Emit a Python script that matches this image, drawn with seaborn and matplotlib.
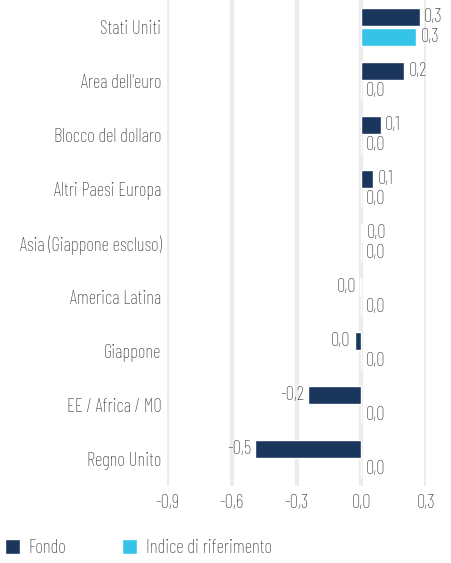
import matplotlib
matplotlib.use("Agg")
import matplotlib.pyplot as plt
import seaborn as sns
import pandas as pd

categories = ["Stati Uniti", "Area dell'euro", "Blocco del dollaro", "Altri Paesi Europa",
              "Asia (Giappone escluso)", "America Latina", "Giappone", "EE / Africa / MO", "Regno Unito"]
fondo = [0.27, 0.20, 0.09, 0.055, 0.004, -0.004, -0.03, -0.245, -0.49]
indice = [0.255, 0.0, 0.0, 0.0, 0.0, 0.0, 0.0, 0.0, 0.0]
series_names = ["Fondo", "Indice di riferimento"]
colors = ["#1b365d", "#35c4e8"]
xticks = [-0.9, -0.6, -0.3, 0.0, 0.3]

sns.set_theme(style="white")
plt.rcParams['font.family'] = ["Barlow Condensed", 'DejaVu Sans']
plt.rcParams['font.weight'] = 'light'
txt = "#333333"
FS = 13.5

df = pd.DataFrame({
    "cat": categories * 2,
    "val": fondo + indice,
    "serie": [series_names[0]] * len(categories) + [series_names[1]] * len(categories),
})

fig = plt.figure(figsize=(4.51, 5.63), dpi=100)
ax = fig.add_axes([167 / 451, 1 - 486 / 563, (426 - 167) / 451, 486 / 563])
sns.barplot(data=df, y="cat", x="val", hue="serie", orient="h", palette=colors,
            width=0.72, gap=0.08, ax=ax, saturation=1, legend=True)

ax.set_xlim(-0.9, 0.3)
ax.set_ylim(len(categories) - 0.5, -0.5)
ax.set_xticks(xticks)
ax.set_xticklabels([f"{t:.1f}".replace(".", ",") for t in xticks], color=txt, fontsize=FS)
ax.tick_params(axis="y", length=0, pad=4, labelsize=FS, labelcolor=txt)
ax.tick_params(axis="x", length=0, pad=6)
ax.set_xlabel("")
ax.set_ylabel("")
for s in ax.spines.values():
    s.set_visible(False)
ax.grid(False)
for t in xticks:
    ax.axvline(t, color="#ececec", lw=3, zorder=0)

def fmt(v):
    r = round(v, 1)
    if r == 0:
        return "0,0"
    return f"{r:.1f}".replace(".", ",")

for container in ax.containers:
    for bar in container:
        w = bar.get_width()
        y = bar.get_y() + bar.get_height() / 2
        x0 = bar.get_x()
        left, right = min(x0, x0 + w), max(x0, x0 + w)
        if w >= 0:
            ax.annotate(fmt(w), (right, y), xytext=(3, 0), textcoords="offset points",
                        ha="left", va="center", fontsize=FS, color=txt, annotation_clip=False)
        else:
            ax.annotate(fmt(w), (left, y), xytext=(-3, 0), textcoords="offset points",
                        ha="right", va="center", fontsize=FS, color=txt, annotation_clip=False)

h, l = ax.get_legend_handles_labels()
ax.legend(h, l, loc="center left", bbox_to_anchor=(5 / 451, 1 - 548 / 563), bbox_transform=fig.transFigure,
          ncol=2, frameon=False, fontsize=FS, handlelength=0.8, handleheight=0.8,
          handletextpad=0.45, columnspacing=3.0, labelcolor=txt, borderaxespad=0, borderpad=0)

fig.savefig("out.png", dpi=100)
